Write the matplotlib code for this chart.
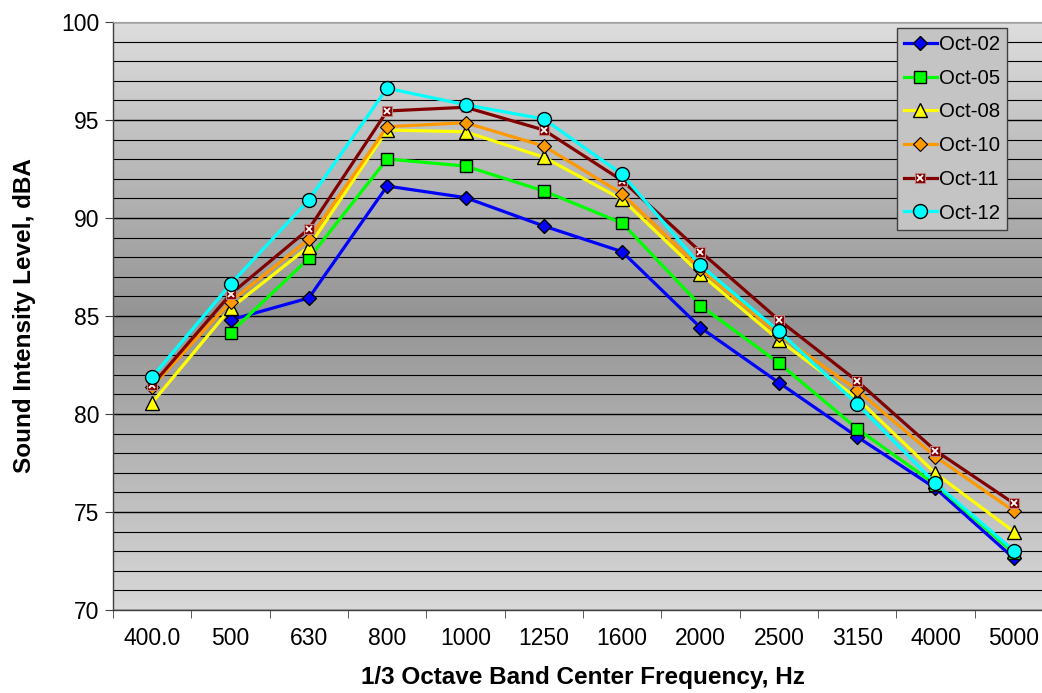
import matplotlib
matplotlib.use("Agg")
import matplotlib.pyplot as plt
import numpy as np
from matplotlib.legend_handler import HandlerTuple
from matplotlib.ticker import MultipleLocator, FixedLocator

plt.rcParams['font.family'] = ['Liberation Sans', 'DejaVu Sans']

freqs = ["400.0", "500", "630", "800", "1000", "1250", "1600",
         "2000", "2500", "3150", "4000", "5000"]

oct02 = [np.nan, 84.80, 85.92, 91.63, 91.04, 89.59, 88.28, 84.41, 81.60, 78.84, 76.21, 72.64]
oct05 = [np.nan, 84.15, 87.94, 93.01, 92.65, 91.38, 89.74, 85.53, 82.60, 79.25, 76.40, 72.90]
oct08 = [80.58, 85.39, 88.54, 94.49, 94.40, 93.10, 90.95, 87.14, 83.78, 80.80, 76.97, 74.00]
oct10 = [81.40, 85.73, 88.91, 94.66, 94.86, 93.67, 91.24, 87.40, 84.05, 81.22, 77.82, 75.05]
oct11 = [81.48, 86.11, 89.44, 95.46, 95.65, 94.49, 91.91, 88.28, 84.80, 81.68, 78.13, 75.44]
oct12 = [81.89, 86.62, 90.92, 96.62, 95.78, 95.05, 92.23, 87.58, 84.23, 80.51, 76.46, 73.03]

x = np.arange(len(freqs))

fig = plt.figure(figsize=(10.42, 6.93), dpi=100)
ax = fig.add_axes([113/1042, 1 - 610/693, 940/1042, 588/693])

# gradient background: light at top/bottom, dark in the middle
t = np.linspace(0, 1, 256)
g = np.interp(t, [0, 0.5, 1], [0.85, 0.58, 0.87])
grad = np.dstack([g, g, g]).reshape(256, 1, 3)
ax.imshow(grad, extent=[0, 1, 0, 1], transform=ax.transAxes,
          aspect='auto', origin='lower', zorder=0)

lw = 2.3
ax.plot(x, oct02, color='#0000ff', lw=lw, marker='D', ms=7.5,
        mfc='#0000ff', mec='black', mew=1, label='Oct-02', zorder=3)
ax.plot(x, oct05, color='#00ff00', lw=lw, marker='s', ms=9,
        mfc='#00ff00', mec='black', mew=1, label='Oct-05', zorder=3)
ax.plot(x, oct08, color='#ffff00', lw=lw, marker='^', ms=9.5,
        mfc='#ffff00', mec='black', mew=1, label='Oct-08', zorder=3)
ax.plot(x, oct10, color='#ff9900', lw=lw, marker='D', ms=7.5,
        mfc='#ff9900', mec='black', mew=0.8, label='Oct-10', zorder=3)
l11, = ax.plot(x, oct11, color='#800000', lw=lw, marker='s', ms=7,
               mfc='#800000', mec='#c08080', mew=0.8, zorder=3)
x11, = ax.plot(x, oct11, ls='none', marker='x', ms=5, mec='white', mew=1.3, zorder=3)
ax.plot(x, oct12, color='#00ffff', lw=lw, marker='o', ms=10,
        mfc='#00ffff', mec='black', mew=1, label='Oct-12', zorder=3)

ax.set_xlim(-0.5, len(freqs) - 0.5)
ax.set_ylim(70, 100)

ax.set_xticks(x)
ax.set_xticklabels(freqs)
ax.xaxis.set_minor_locator(FixedLocator(np.arange(-0.5, len(freqs), 1.0)))
ax.tick_params(axis='x', which='major', length=0, pad=12, labelsize=16.5)
ax.tick_params(axis='x', which='minor', length=6, direction='out', color='#404040')

ax.yaxis.set_major_locator(MultipleLocator(5))
ax.yaxis.set_minor_locator(MultipleLocator(1))
ax.tick_params(axis='y', which='major', length=6, direction='out', color='#404040',
               labelsize=16.5, pad=4)
ax.tick_params(axis='y', which='minor', length=0)

ax.set_axisbelow(True)
ax.grid(axis='y', which='major', color=(0, 0, 0, 0.45), lw=1.0)
ax.grid(axis='y', which='minor', color=(0, 0, 0, 0.10), lw=0.8)

for side in ['left', 'bottom']:
    ax.spines[side].set_color('#404040')
    ax.spines[side].set_linewidth(1.0)
ax.spines['top'].set_color('#a0a0a0')
ax.spines['right'].set_visible(False)

ax.set_xlabel('1/3 Octave Band Center Frequency, Hz', fontsize=17.5,
              fontweight='bold', labelpad=12)
ax.set_ylabel('Sound Intensity Level, dBA', fontsize=17.5,
              fontweight='bold', labelpad=18)

handles, labels = ax.get_legend_handles_labels()
handles.insert(4, (l11, x11))
labels.insert(4, 'Oct-11')
leg = ax.legend(handles, labels, loc='upper right', bbox_to_anchor=(0.951, 0.99),
                borderaxespad=0, fontsize=14.7, labelspacing=0.72,
                handlelength=1.6, handletextpad=0.1, borderpad=0.35,
                fancybox=False, framealpha=1,
                handler_map={tuple: HandlerTuple(ndivide=1)})
leg.get_frame().set_facecolor('#c4c4c4')
leg.get_frame().set_edgecolor('#404040')
leg.get_frame().set_linewidth(1.0)
leg.set_zorder(5)

fig.savefig('out.png', dpi=100)
